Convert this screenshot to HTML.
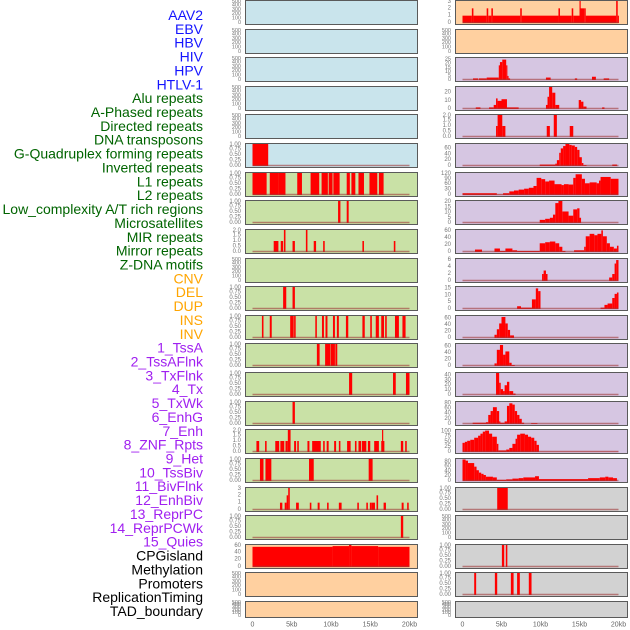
<!DOCTYPE html>
<html><head><meta charset="utf-8"><style>
html,body{margin:0;padding:0;background:#fff;}
svg{display:block;font-family:"Liberation Sans",sans-serif;}
</style></head><body>
<svg id="chart" width="630" height="630" viewBox="0 0 630 630">
<g id="labels"></g>
<g id="panels"></g>
<g id="xaxes"></g>
</svg>
<script>
// ---- data ----
const labelNames = ["AAV2","EBV","HBV","HIV","HPV","HTLV-1","Alu repeats","A-Phased repeats","Directed repeats","DNA transposons","G-Quadruplex forming repeats","Inverted repeats","L1 repeats","L2 repeats","Low_complexity A/T rich regions","Microsatellites","MIR repeats","Mirror repeats","Z-DNA motifs","CNV","DEL","DUP","INS","INV","1_TssA","2_TssAFlnk","3_TxFlnk","4_Tx","5_TxWk","6_EnhG","7_Enh","8_ZNF_Rpts","9_Het","10_TssBiv","11_BivFlnk","12_EnhBiv","13_ReprPC","14_ReprPCWk","15_Quies","CPGisland","Methylation","Promoters","ReplicationTiming","TAD_boundary"];
const labelGroups = ["v","v","v","v","v","v","r","r","r","r","r","r","r","r","r","r","r","r","r","s","s","s","s","s","c","c","c","c","c","c","c","c","c","c","c","c","c","c","c","o","o","o","o","o"];
const xTickLabels = ["0","5kb","10kb","15kb","20kb"];
const xTickValues = [0,5,10,15,20];
const ticks500 = ["500","400","300","200","100","0"];
const ticks1 = ["1.00","0.75","0.50","0.25","0.00"];
const ticks2 = ["2.0","1.5","1.0","0.5","0.0"];

// segments: [startKb, endKb, value]
const L5 = [[0,2.0,1]];
const L6 = [[0,1.8,1],[2.2,3.3,1],[3.3,4.2,1],[5.7,6.3,1],[7.4,8.5,1],[8.8,9.6,1],[9.7,10.2,1],[10.3,11.1,1],[12.0,12.4,1],[12.6,13.1,1],[13.5,14.2,1],[14.9,15.9,1],[16.1,16.7,1]];
const L7 = [[10.9,11.2,1],[12.0,12.25,1]];
const L8 = [[2.7,3.3,1],[3.6,3.9,1],[4.0,4.2,2],[5.1,5.4,1],[6.8,7.0,2],[7.8,8.1,1],[9.0,9.2,1],[14.0,14.2,1],[18.0,18.2,1]];
const L10 = [[3.9,4.3,1],[5.1,5.4,1]];
const L11 = [[1.2,1.4,1],[2.2,2.45,1],[4.8,5.25,1],[5.3,5.5,1],[8.0,8.2,1],[8.85,9.1,1],[9.3,9.55,1],[10.25,10.5,1],[10.75,11.0,1],[11.9,12.2,1],[14.0,14.3,1],[15.0,15.2,1],[15.7,16.1,1],[16.4,16.75,1],[16.9,17.1,1],[18.15,18.65,1],[19.1,19.5,1]];
const L12 = [[8.2,8.55,1],[9.25,9.9,1],[9.95,10.5,1],[10.55,10.8,1]];
const L13 = [[12.3,12.7,1],[17.9,18.25,1],[19.55,20.0,1]];
const L14 = [[5.1,5.4,1]];
const L15 = [[0.5,0.85,1],[1.6,1.8,1],[2.9,3.4,1],[3.55,4.05,1],[4.2,4.5,1],[4.5,4.85,2],[5.3,5.55,1],[5.7,5.9,1],[7.0,7.25,1],[7.6,8.7,1],[9.0,9.2,1],[9.45,9.7,1],[10.4,10.65,1],[11.0,11.2,1],[12.05,12.5,1],[13.05,13.25,1],[13.5,13.85,1],[13.95,14.5,1],[14.7,15.0,1],[15.5,16.1,1],[16.4,16.8,1],[16.5,16.65,2],[18.9,19.2,1],[19.45,19.65,1]];
const L16 = [[0.95,1.4,1],[1.65,2.1,1],[2.1,2.4,1],[7.2,7.8,1],[14.8,15.3,1]];
const L17 = [[3.5,3.8,1],[4.1,4.35,1],[4.35,4.55,2],[4.55,4.75,3],[5.55,5.9,1],[7.3,7.5,1],[8.3,8.55,1],[9.5,9.7,1],[11.0,11.35,1],[13.35,13.55,1],[14.5,14.7,1],[14.95,15.2,1],[15.2,15.6,1],[15.8,16.0,2],[16.7,17.0,1],[19.0,19.25,1],[19.7,19.9,1]];
const L18 = [[18.9,19.2,1]];
const L19 = [[0,10.2,55],[10.2,12.3,57],[12.3,12.6,60],[12.6,16,57],[16,20,55]];
const R0 = [[0,1.2,1],[1.2,1.4,2],[1.4,3.1,1],[3.1,3.3,2],[3.3,3.7,1],[3.7,3.9,2],[3.9,7.4,1],[7.4,7.6,2],[7.6,12.3,1],[12.3,12.5,2],[12.5,14.0,1],[14.0,14.2,2],[14.2,15.0,1],[15.0,15.1,3],[15.1,15.6,2],[15.6,15.8,2],[15.8,19.7,1],[19.7,19.9,3],[19.9,20,1]];
const R2 = [[1.35,2.0,2],[2.1,3.1,2],[3.1,4.65,3],[4.65,4.8,18],[4.8,5.1,22],[5.1,5.6,25],[5.6,5.75,18],[5.75,5.9,5],[5.9,6.1,2],[10.7,11.3,3],[14.4,14.7,2],[16.6,17.1,4],[18.1,18.8,2]];
const R3 = [[1.7,2.3,2],[3.4,4.0,2],[4.0,4.3,5],[4.3,4.5,13],[4.5,5.0,10],[5.0,5.7,12],[5.7,7.2,2],[10.7,10.9,5],[10.9,11.1,15],[11.1,11.5,27],[11.5,11.9,20],[11.9,12.4,5],[14.9,15.2,11],[15.2,15.5,9],[15.5,15.9,3],[17.9,18.2,2]];
const R4 = [[4.3,4.5,1],[4.5,5.1,2],[5.1,5.5,1],[10.8,11.2,1],[11.7,12.1,2],[13.75,14.2,1]];
const R5 = [[9.9,11.9,5],[11.9,12.1,8],[12.1,12.4,20],[12.4,12.6,45],[12.6,12.9,60],[12.9,13.2,68],[13.2,13.7,75],[13.7,14.0,72],[14.0,14.4,70],[14.4,14.7,65],[14.7,15.0,55],[15.0,15.3,30],[15.3,15.5,10],[15.5,15.9,3],[19.2,19.8,5]];
const R6 = [[0,4.4,10],[4.4,5.2,2],[5.2,6.0,10],[6.0,6.6,20],[6.6,7.2,25],[7.2,7.9,30],[7.9,8.5,35],[8.5,9.1,40],[9.1,9.5,50],[9.5,10.1,95],[10.1,10.6,88],[10.6,11.1,75],[11.1,11.8,80],[11.8,12.7,60],[12.7,13.0,55],[13.0,13.6,60],[13.6,14.2,58],[14.2,14.5,95],[14.5,15.3,115],[15.3,15.7,90],[15.7,16.3,65],[16.3,17.2,70],[17.2,17.5,65],[17.5,17.7,80],[17.7,19.0,100],[19.0,20,90]];
const R7 = [[9.9,10.6,3],[10.6,11.2,4],[11.2,11.6,5],[11.6,11.9,8],[11.9,12.3,19],[12.3,12.8,21],[12.8,13.6,11],[13.6,14.2,7],[14.2,14.7,13],[14.7,15.0,14],[15.0,15.2,5]];
const R8 = [[1.6,2.5,7],[4.1,4.8,10],[4.8,5.5,3],[5.5,6.4,10],[6.4,7.0,5],[7.0,9.9,3],[9.9,10.6,25],[10.6,11.2,28],[11.2,11.9,30],[11.9,12.4,25],[12.4,12.8,15],[12.8,13.2,3],[14.3,15.6,5],[15.6,15.8,15],[15.8,16.3,45],[16.3,16.9,52],[16.9,17.3,48],[17.3,17.8,52],[17.8,18.0,62],[18.0,18.5,45],[18.5,18.9,25],[18.9,19.4,15],[19.4,19.8,10],[19.8,20,18]];
const R9 = [[10.2,10.4,2],[10.4,10.7,3],[10.7,10.9,2],[18.8,19.2,1],[19.2,19.5,2],[19.5,19.7,5],[19.7,20,6]];
const R10 = [[7.0,7.5,2],[7.5,8.9,1],[8.9,9.4,7],[9.4,9.7,15],[9.7,10.0,13],[17.7,18.2,1],[18.2,18.6,3],[18.6,19.2,4],[19.2,19.5,8],[19.5,19.8,11],[19.8,20.0,12]];
const R11 = [[4.1,4.4,10],[4.4,4.7,27],[4.7,5.0,45],[5.0,5.5,65],[5.5,5.8,45],[5.8,6.1,25],[6.1,6.6,8]];
const R12 = [[4.1,4.4,8],[4.4,4.8,50],[4.8,5.2,65],[5.2,5.5,35],[5.5,6.0,45],[6.0,6.3,10],[6.3,6.7,3]];
const R13 = [[4.3,4.7,45],[4.7,4.9,25],[4.9,5.2,12],[5.2,5.4,8],[5.4,5.7,20],[5.7,6.0,27],[6.0,6.5,8],[6.5,6.8,3]];
const R14 = [[1.3,3.0,5],[3.0,3.3,7],[3.3,3.6,35],[3.6,3.9,50],[3.9,4.4,65],[4.4,4.7,50],[4.7,4.8,10],[4.8,5.4,5],[5.4,5.7,10],[5.7,6.0,70],[6.0,6.4,80],[6.4,6.7,75],[6.7,7.0,50],[7.0,7.3,35],[7.3,7.6,20],[7.6,7.9,5],[8.8,9.6,3]];
const R15 = [[0,0.3,45],[0.3,0.6,50],[0.6,1.0,55],[1.0,1.5,60],[1.5,2.0,70],[2.0,2.3,80],[2.3,2.6,90],[2.6,2.9,100],[2.9,3.4,105],[3.4,3.8,90],[3.8,4.4,75],[4.4,4.6,40],[4.6,5.6,8],[5.6,6.0,12],[6.0,6.4,20],[6.4,6.8,40],[6.8,7.0,65],[7.0,7.4,85],[7.4,8.0,90],[8.0,8.4,85],[8.4,8.8,75],[8.8,9.2,70],[9.2,9.5,55],[9.5,9.8,35],[9.8,20,1]];
const R16 = [[0,0.4,90],[0.4,0.7,85],[0.7,1.5,75],[1.5,1.8,60],[1.8,2.1,45],[2.1,2.4,35],[2.4,2.7,30],[2.7,3.0,25],[3.0,3.9,18],[3.9,4.4,15],[4.4,5.6,5],[5.6,6.4,7],[6.4,7.2,10],[7.2,7.8,12],[7.8,9.3,15],[9.3,9.8,20],[9.8,16.1,8],[16.1,17.6,12],[17.6,18.3,15],[18.3,18.7,18],[18.7,19.3,15],[19.3,19.8,12]];
const R17 = [[4.45,5.8,1]];
const R19 = [[5.05,5.35,1],[5.55,5.75,1]];
const R20 = [[1.5,1.75,1],[4.15,4.45,1],[6.2,6.55,1],[7.0,7.35,1],[8.5,8.85,1]];

const BLUE="#c9e4ec", GREEN="#c9e1a6", ORANGE="#ffd0a0", PURPLE="#d6c6e2", GRAY="#d2d2d2";
// [col,row,bg,ymax,tickLabels,tickVals,segments,name]
const panels = [
 [0,0,BLUE,500,ticks500,[500,400,300,200,100,0],null,"aav2"],
 [0,1,BLUE,500,ticks500,[500,400,300,200,100,0],null,"ebv"],
 [0,2,BLUE,500,ticks500,[500,400,300,200,100,0],null,"hbv"],
 [0,3,BLUE,500,ticks500,[500,400,300,200,100,0],null,"hiv"],
 [0,4,BLUE,500,ticks500,[500,400,300,200,100,0],null,"hpv"],
 [0,5,BLUE,1,ticks1,[1,.75,.5,.25,0],L5,"htlv"],
 [0,6,GREEN,1,ticks1,[1,.75,.5,.25,0],L6,"l1"],
 [0,7,GREEN,1,ticks1,[1,.75,.5,.25,0],L7,"low-complexity"],
 [0,8,GREEN,2,ticks2,[2,1.5,1,.5,0],L8,"mir"],
 [0,9,GREEN,500,ticks500,[500,400,300,200,100,0],null,"z-dna"],
 [0,10,GREEN,1,ticks1,[1,.75,.5,.25,0],L10,"del"],
 [0,11,GREEN,1,ticks1,[1,.75,.5,.25,0],L11,"ins"],
 [0,12,GREEN,1,ticks1,[1,.75,.5,.25,0],L12,"tssa"],
 [0,13,GREEN,1,ticks1,[1,.75,.5,.25,0],L13,"txflnk"],
 [0,14,GREEN,1,ticks1,[1,.75,.5,.25,0],L14,"txwk"],
 [0,15,GREEN,2,ticks2,[2,1.5,1,.5,0],L15,"enh"],
 [0,16,GREEN,1,ticks1,[1,.75,.5,.25,0],L16,"het"],
 [0,17,GREEN,3,["3","2","1","0"],[3,2,1,0],L17,"bivflnk"],
 [0,18,GREEN,1,ticks1,[1,.75,.5,.25,0],L18,"reprpcwk"],
 [0,19,ORANGE,60,["60","40","20","0"],[60,40,20,0],L19,"cpgisland"],
 [0,20,ORANGE,500,ticks500,[500,400,300,200,100,0],null,"promoters"],
 [0,21,ORANGE,500,ticks500,[500,400,300,200,100,0],null,"tad"],
 [1,0,ORANGE,3,["3","2","1","0"],[3,2,1,0],R0,"r-aav2"],
 [1,1,ORANGE,500,ticks500,[500,400,300,200,100,0],null,"r-ebv"],
 [1,2,PURPLE,27,["25","20","15","10","5","0"],[25,20,15,10,5,0],R2,"r-hiv"],
 [1,3,PURPLE,27,["20","10","0"],[20,10,0],R3,"r-alu"],
 [1,4,PURPLE,2,ticks2,[2,1.5,1,.5,0],R4,"r-directed"],
 [1,5,PURPLE,75,["60","40","20","0"],[60,40,20,0],R5,"r-gquad"],
 [1,6,PURPLE,122,["120","90","60","30","0"],[120,90,60,30,0],R6,"r-l2"],
 [1,7,PURPLE,21,["20","15","10","5","0"],[20,15,10,5,0],R7,"r-micro"],
 [1,8,PURPLE,63,["60","40","20","0"],[60,40,20,0],R8,"r-mirror"],
 [1,9,PURPLE,6.3,["6","4","2","0"],[6,4,2,0],R9,"r-cnv"],
 [1,10,PURPLE,16,["15","10","5","0"],[15,10,5,0],R10,"r-dup"],
 [1,11,PURPLE,68,["60","40","20","0"],[60,40,20,0],R11,"r-inv"],
 [1,12,PURPLE,68,["60","40","20","0"],[60,40,20,0],R12,"r-tssaflnk"],
 [1,13,PURPLE,45,["40","30","20","10","0"],[40,30,20,10,0],R13,"r-tx"],
 [1,14,PURPLE,85,["80","60","40","20","0"],[80,60,40,20,0],R14,"r-enhg"],
 [1,15,PURPLE,108,["100","75","50","25","0"],[100,75,50,25,0],R15,"r-znf"],
 [1,16,PURPLE,92,["80","60","40","20","0"],[80,60,40,20,0],R16,"r-tssbiv"],
 [1,17,GRAY,1,ticks1,[1,.75,.5,.25,0],R17,"r-enhbiv"],
 [1,18,GRAY,500,ticks500,[500,400,300,200,100,0],null,"r-reprpc"],
 [1,19,GRAY,1,ticks1,[1,.75,.5,.25,0],R19,"r-quies"],
 [1,20,GRAY,1,ticks1,[1,.75,.5,.25,0],R20,"r-methylation"],
 [1,21,GRAY,500,ticks500,[500,400,300,200,100,0],null,"r-replication"]
];

const NS="http://www.w3.org/2000/svg";
function mk(tag,attrs,parent){const e=document.createElementNS(NS,tag);for(const k in attrs)e.setAttribute(k,attrs[k]);parent.appendChild(e);return e;}
const groupColor={v:"#1414ff",r:"#006400",s:"#ffa500",c:"#a020f0",o:"#000"};

const gl=document.getElementById("labels");
labelNames.forEach((n,i)=>{
  const t=mk("text",{x:203,y:15+i*13.86,"text-anchor":"end","dominant-baseline":"central","font-size":"14",fill:groupColor[labelGroups[i]]},gl);
  t.textContent=n;
  
  
});

const colX=[245,455], colW=172, kb0=[252.5,462.5], kbS=[7.85,7.8];
function xScale(c,kb){return kb0[c]+kb*kbS[c];}
const gp=document.getElementById("panels");
panels.forEach(p=>{
  const [c,r,bg,ymax,tl,tv,seg,name]=p;
  const top=Math.round(r*28.62), h=(r===21?16:24);
  const g=mk("g",{},gp);
  
  
  const y0=top+h-1, y1=top+1;
  const yScale=v=>y0-(v/ymax)*(y0-y1);
  mk("rect",{x:colX[c]+0.5,y:top+0.5,width:colW,height:h,fill:bg,stroke:"#5a5a5a","stroke-width":1},g);
  if(seg){
    seg.forEach(s=>{
      const xa=xScale(c,s[0]), xb=xScale(c,s[1]);
      const b=mk("rect",{x:xa,y:yScale(s[2]),width:Math.max(1.2,xb-xa),height:y0-yScale(s[2]),fill:"#ff0000"},g);
      
      
    });
    mk("line",{x1:xScale(c,0),x2:xScale(c,20),y1:y0-0.5,y2:y0-0.5,stroke:"#a03a3a","stroke-opacity":0.6,"stroke-width":1.4},g);
  }
  const fs = tl.length>=6 ? 5.5 : 6;
  tl.forEach((lab,i)=>{
    const yy=Math.min(y0+1, Math.max(top+2, yScale(tv[i])));
    const t=mk("text",{x:colX[c]-4,y:yy,"text-anchor":"end","dominant-baseline":"central","font-size":fs,fill:"#777"},g);
    t.textContent=lab;
    
    
  });
});

const gx=document.getElementById("xaxes");
[0,1].forEach(c=>{
  xTickValues.forEach((v,i)=>{
    const t=mk("text",{x:xScale(c,v),y:625,"text-anchor":"middle","dominant-baseline":"central","font-size":"7",fill:"#666"},gx);
    t.textContent=xTickLabels[i];
    
    
  });
});
</script>
</body></html>
